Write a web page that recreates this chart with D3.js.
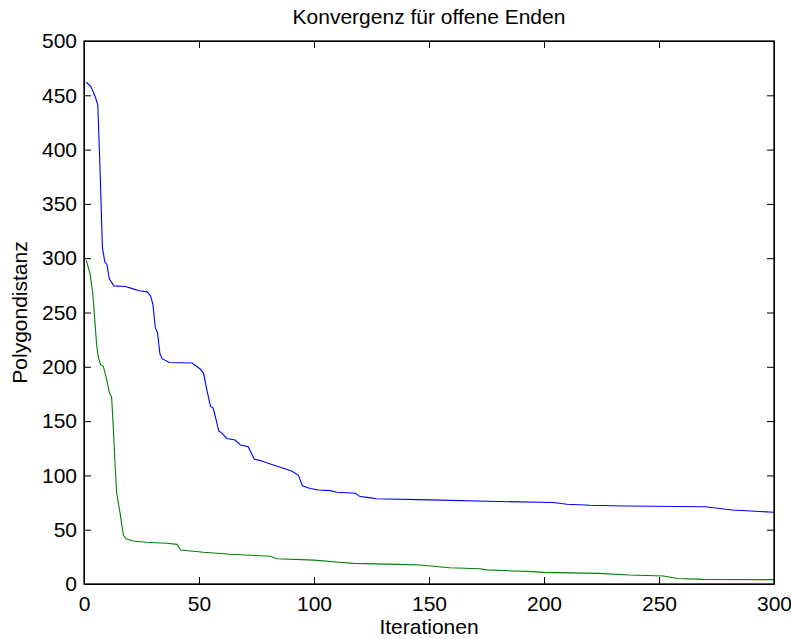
<!DOCTYPE html>
<html lang="de">
    <head>
        <meta charset="utf-8">
        <title>Konvergenz für offene Enden</title>
        <script type="text/javascript" src="https://d3js.org/d3.v7.min.js"></script>
        <style type="text/css">
            body { margin: 0; background: #fff; }
            text { font-family: "Liberation Sans", Arial, Helvetica, sans-serif; fill: #000; }
            .axis path, .axis line { stroke: #000; }
        </style>
    </head>
    <body>
        <div id="chart"></div>
        <script type="text/javascript">
            // [iteration, distance]
            const blueSeries = [
                [1, 462], [3, 458], [5, 448], [6, 441], [7, 380], [8, 310], [9, 297], [10, 294],
                [11, 281], [13, 274.5], [18, 274], [21, 272], [24, 270], [27.5, 269], [29, 265],
                [30, 257], [31, 236], [32, 231], [33, 212], [34, 207.5], [37, 204], [47, 203.5],
                [50.5, 198], [52, 194], [53.3, 180], [55, 163.5], [56.2, 162], [58.6, 141],
                [60, 139], [62, 134], [65.7, 132.6], [68, 128], [71.4, 126.4], [74, 115],
                [77.3, 113.3], [81, 110.5], [86, 107], [88.4, 105.5], [90.3, 104], [93.2, 100],
                [95, 90.5], [98.3, 88], [102, 86.6], [107, 86], [110, 84.5], [118, 83.5],
                [120, 80.5], [124, 79.5], [127, 78.5], [150, 77.5], [180, 76], [204, 75],
                [210, 73.5], [220, 72.5], [235, 71.8], [270, 71.2], [282, 68.2], [300, 66]
            ];
            const greenSeries = [
                [1, 298], [2.6, 286], [3.8, 268], [4.8, 240], [5.5, 220], [6.2, 209], [7.2, 202],
                [8.4, 200.5], [9.9, 188], [11, 176], [12, 172.5], [12.8, 142], [13.5, 110],
                [14.2, 84], [15.7, 65], [17.1, 45], [18.3, 41.7], [21.4, 39.6], [27, 38.4],
                [36, 37.5], [40.5, 36.5], [42, 31.3], [52, 29.2], [63.5, 27.4], [81, 25.5],
                [83.8, 23.3], [100, 22], [111, 20], [117, 19], [137, 18.1], [146, 17.5],
                [159, 15], [172, 14.1], [175, 13], [195, 11.4], [200, 10.7], [224, 9.8],
                [237, 8.3], [252, 7.4], [258, 5], [269, 4.3], [300, 4]
            ];
            const xTicks = [0, 50, 100, 150, 200, 250, 300];
            const yTicks = [0, 50, 100, 150, 200, 250, 300, 350, 400, 450, 500];

            const margin = {top: 41, right: 17, bottom: 55, left: 84};
            const width = 791 - margin.left - margin.right;
            const height = 639 - margin.top - margin.bottom;

            const xScale = d3.scaleLinear().domain([0, 300]).range([0, width]);
            const yScale = d3.scaleLinear().domain([0, 500]).range([height, 0]);

            const svg = d3.select("#chart")
                .append("svg")
                .attr("width", 791)
                .attr("height", 639);

            const g = svg.append("g")
                .attr("transform", "translate(" + margin.left + "," + margin.top + ")");

            const line = d3.line()
                .x(d => xScale(d[0]))
                .y(d => yScale(d[1]));

            g.append("path")
                .datum(blueSeries)
                .attr("fill", "none")
                .attr("stroke", "#0000ff")
                .attr("stroke-width", 1.1)
                .attr("d", line);

            g.append("path")
                .datum(greenSeries)
                .attr("fill", "none")
                .attr("stroke", "#008000")
                .attr("stroke-width", 1.1)
                .attr("d", line);

            // inward ticks on all four sides, like the original
            g.append("g")
                .attr("class", "axis")
                .attr("transform", "translate(0," + height + ")")
                .call(d3.axisBottom(xScale).tickValues(xTicks).tickSizeInner(-7).tickSizeOuter(0).tickPadding(12))
                .call(a => a.selectAll("text").attr("font-size", 21));

            g.append("g")
                .attr("class", "axis")
                .call(d3.axisTop(xScale).tickValues(xTicks).tickSizeInner(-7).tickSizeOuter(0).tickFormat(""));

            g.append("g")
                .attr("class", "axis")
                .call(d3.axisLeft(yScale).tickValues(yTicks).tickSizeInner(-7).tickSizeOuter(0).tickPadding(7))
                .call(a => a.selectAll("text").attr("font-size", 21));

            g.append("g")
                .attr("class", "axis")
                .attr("transform", "translate(" + width + ",0)")
                .call(d3.axisRight(yScale).tickValues(yTicks).tickSizeInner(-7).tickSizeOuter(0).tickFormat(""));

            g.selectAll(".axis text").attr("font-family", null);

            g.append("rect")
                .attr("width", width)
                .attr("height", height)
                .attr("fill", "none")
                .attr("stroke", "#000")
                .attr("stroke-width", 1.3);

            svg.append("text")
                .attr("x", margin.left + width / 2)
                .attr("y", 24)
                .attr("text-anchor", "middle")
                .attr("font-size", 21)
                .text("Konvergenz für offene Enden");

            svg.append("text")
                .attr("x", margin.left + width / 2)
                .attr("y", 634)
                .attr("text-anchor", "middle")
                .attr("font-size", 21)
                .text("Iterationen");

            svg.append("text")
                .attr("transform", "translate(27," + (margin.top + height / 2) + ") rotate(-90)")
                .attr("text-anchor", "middle")
                .attr("font-size", 21)
                .text("Polygondistanz");
        </script>
    </body>
</html>
